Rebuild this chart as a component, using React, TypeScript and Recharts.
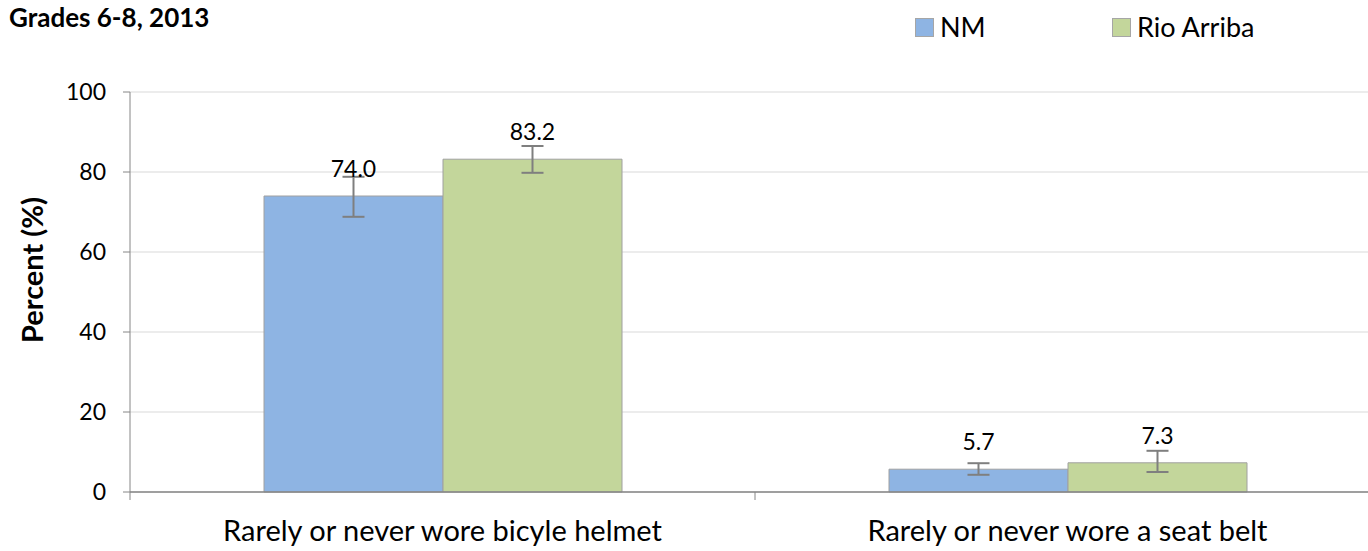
import React from 'react';
import { BarChart, Bar, XAxis, YAxis, CartesianGrid, ErrorBar, LabelList, Legend } from 'recharts';

const categories = ['Rarely or never wore bicyle helmet', 'Rarely or never wore a seat belt'];
const nmValues = [74.0, 5.7];
const nmLow = [68.8, 4.3];
const nmHigh = [78.8, 7.2];
const rioValues = [83.2, 7.3];
const rioLow = [79.8, 5.0];
const rioHigh = [86.5, 10.3];
const yTicks = [0, 20, 40, 60, 80, 100];
const seriesNames = ['NM', 'Rio Arriba'];
const colors = ['#8eb4e3', '#c3d69b'];

const data = categories.map((c, i) => ({
  cat: c,
  nm: nmValues[i],
  nmErr: [nmValues[i] - nmLow[i], nmHigh[i] - nmValues[i]],
  rio: rioValues[i],
  rioErr: [rioValues[i] - rioLow[i], rioHigh[i] - rioValues[i]],
}));

const FONT = 'Lato, "Open Sans", sans-serif';

const LegendContent = () => (
  <div style={{ display: 'flex', fontFamily: FONT, fontSize: 27, color: '#000', lineHeight: '32px', height: 32 }}>
    {seriesNames.map((n, i) => (
      <div key={n} style={{ display: 'flex', alignItems: 'center', width: 197 }}>
        <span style={{ display: 'inline-block', width: 17, height: 17, background: colors[i], border: '1px solid #a6a6a6', marginRight: 6 }} />
        <span>{n}</span>
      </div>
    ))}
  </div>
);

const CategoryTick = (props: any) => {
  const { x, y, payload, index } = props;
  const half = payload && payload.offset ? payload.offset : 0;
  const axisY = y - 28;
  return (
    <g>
      <line x1={x - half} x2={x - half} y1={axisY} y2={axisY + 8} stroke="#868686" strokeWidth={1} />
      {index === categories.length - 1 && (
        <line x1={x + half} x2={x + half} y1={axisY} y2={axisY + 8} stroke="#868686" strokeWidth={1} />
      )}
      <text x={x} y={y} dy="0.71em" textAnchor="middle" fontFamily={FONT} fontSize={29} fill="#000">
        {payload.value}
      </text>
    </g>
  );
};

export default function App() {
  return (
    <div style={{ position: 'fixed', left: 0, top: 0, width: 1368, height: 551, overflow: 'hidden', background: '#fff' }}>
      <div style={{ position: 'absolute', left: 9, top: 1, fontFamily: FONT, fontWeight: 700, fontSize: 26, color: '#000', lineHeight: '32px' }}>
        Grades 6-8, 2013
      </div>
      <div style={{ position: 'absolute', left: 0, top: 0 }}>
        <BarChart
          width={1390}
          height={551}
          data={data}
          margin={{ top: 60, right: 10, bottom: 0, left: 0 }}
          barGap={0}
          barSize={179}
        >
          <CartesianGrid vertical={false} stroke="#d9d9d9" strokeWidth={1} />
          <XAxis
            dataKey="cat"
            height={59}
            tickLine={false}
            axisLine={{ stroke: '#868686', strokeWidth: 1.5 }}
            tick={<CategoryTick />}
            tickMargin={22}
            interval={0}
          />
          <YAxis
            domain={[0, 100]}
            ticks={yTicks}
            width={130}
            tickSize={7}
            tickMargin={17}
            axisLine={{ stroke: '#868686', strokeWidth: 1 }}
            tickLine={{ stroke: '#868686', strokeWidth: 1 }}
            tick={{ fontFamily: FONT, fontSize: 23, fill: '#000' }}
            label={{
              content: (props: any) => {
                const vb = props.viewBox;
                const cx = 31;
                const cy = vb.y + vb.height / 2 - 22;
                return (
                  <text
                    x={cx}
                    y={cy}
                    transform={`rotate(-90 ${cx} ${cy})`}
                    textAnchor="middle"
                    dominantBaseline="central"
                    fontFamily={FONT}
                    fontWeight={700}
                    fontSize={29}
                    fill="#000"
                  >
                    Percent (%)
                  </text>
                );
              },
            }}
          />
          <Legend
            verticalAlign="top"
            align="left"
            content={<LegendContent />}
            wrapperStyle={{ position: 'absolute', left: 915, top: 11, width: 430, height: 32 }}
          />
          <Bar dataKey="nm" name={seriesNames[0]} fill={colors[0]} stroke="#a0a0a0" strokeWidth={1} isAnimationActive={false}>
            <ErrorBar dataKey="nmErr" width={11} stroke="#7f7f7f" strokeWidth={2} isAnimationActive={false} />
            <LabelList dataKey="nm" position="top" offset={19} formatter={(v: any) => Number(v).toFixed(1)} style={{ fontFamily: FONT, fontSize: 23, fill: '#000' }} />
          </Bar>
          <Bar dataKey="rio" name={seriesNames[1]} fill={colors[1]} stroke="#a0a0a0" strokeWidth={1} isAnimationActive={false}>
            <ErrorBar dataKey="rioErr" width={11} stroke="#7f7f7f" strokeWidth={2} isAnimationActive={false} />
            <LabelList dataKey="rio" position="top" offset={19} formatter={(v: any) => Number(v).toFixed(1)} style={{ fontFamily: FONT, fontSize: 23, fill: '#000' }} />
          </Bar>
        </BarChart>
      </div>
    </div>
  );
}
